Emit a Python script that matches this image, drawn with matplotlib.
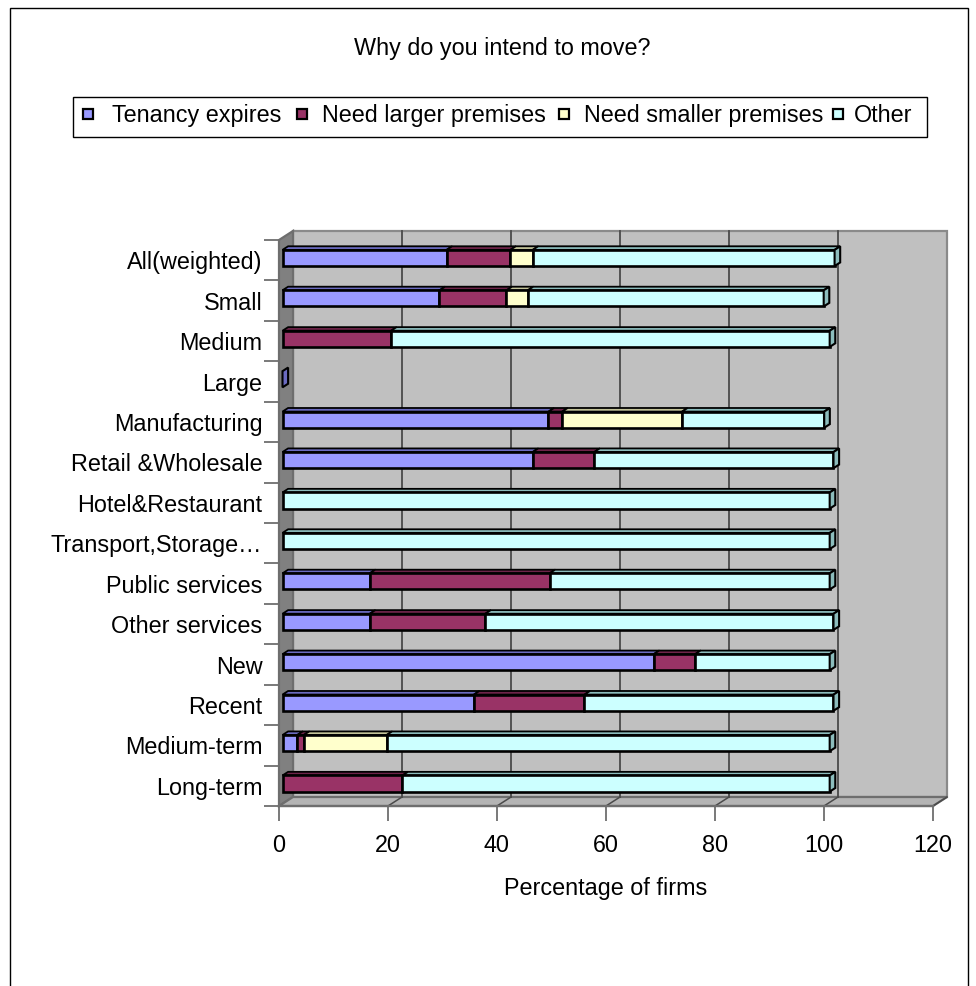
import matplotlib
matplotlib.use('Agg')
import matplotlib.pyplot as plt
from matplotlib.patches import Polygon, Rectangle
import numpy as np

plt.rcParams['font.family'] = ['Liberation Sans', 'DejaVu Sans']

categories = ['All(weighted)', 'Small', 'Medium', 'Large', 'Manufacturing',
              'Retail &Wholesale', 'Hotel&Restaurant', 'Transport,Storage\u2026',
              'Public services', 'Other services', 'New', 'Recent',
              'Medium-term', 'Long-term']
tenancy = [30.1, 28.8, 0, 0, 48.8, 45.9, 0, 0, 16.0, 16.0, 68.1, 35.1, 2.7, 0]
larger = [11.7, 12.3, 19.9, 0, 2.5, 11.3, 0, 0, 33.0, 21.2, 7.6, 20.3, 1.2, 22.0]
smaller = [4.1, 3.9, 0, 0, 22.0, 0, 0, 0, 0, 0, 0, 0, 15.2, 0]
other = [55.4, 54.3, 80.5, 0, 26.1, 43.9, 100.4, 100.4, 51.4, 63.9, 24.7, 45.7, 81.3, 78.4]
series_names = ['Tenancy expires', 'Need larger premises', 'Need smaller premises', 'Other']
xticks = [0, 20, 40, 60, 80, 100, 120]

face_cols = ['#9999FF', '#993366', '#FFFFCC', '#CCFFFF']
side_cols = ['#6B6BC0', '#6E2449', '#C4C49A', '#8CBDBD']

FS = 16.8
W, H = 976, 986
fig = plt.figure(figsize=(W / 100, H / 100), dpi=100)
ax = fig.add_axes([279 / W, 180 / H, 654 / W, 566 / H])
n = len(categories)
ax.set_xlim(0, 120)
ax.set_ylim(n - 0.5, -0.5)
ax.patch.set_visible(False)
for s in ax.spines.values():
    s.set_visible(False)

# depth of the 3d box, in pixels -> data units
px_x = ax.bbox.width / 120
px_y = ax.bbox.height / n
DX = 14 / px_x
DY = 9 / px_y


def off(x, y, t):
    return (x + t * DX, y - t * DY)


wall_col = '#C0C0C0'
edge_col = '#6E6E6E'
top, bot = -0.5, n - 0.5

# back wall, left wall, floor
ax.add_patch(Polygon([off(0, top, 1), off(120, top, 1), off(120, bot, 1), off(0, bot, 1)],
                     closed=True, fc=wall_col, ec='#8A8A8A', lw=1.6, clip_on=False, zorder=0))
ax.add_patch(Polygon([(0, top), off(0, top, 1), off(0, bot, 1), (0, bot)],
                     closed=True, fc='#808080', ec=edge_col, lw=1.6, clip_on=False, zorder=1))
ax.add_patch(Polygon([(0, bot), (120, bot), off(120, bot, 1), off(0, bot, 1)],
                     closed=True, fc='#B4B4B4', ec=edge_col, lw=1.6, clip_on=False, zorder=1))

for xv in xticks[1:-1]:
    x0, y0 = off(xv, top, 1)
    x1, y1 = off(xv, bot, 1)
    ax.plot([x0, x1], [y0, y1], color='#4A4A4A', lw=1.3, clip_on=False, zorder=1)
for xv in xticks[1:]:
    x1, y1 = off(xv, bot, 1)
    ax.plot([xv, x1], [bot, y1], color='#4A4A4A', lw=1.1, clip_on=False, zorder=2)

# bars
t0, dt = 0.25, 0.4
h = 0.4
data = np.array([tenancy, larger, smaller, other])
ypos = np.arange(n)
lefts = np.zeros(n)
for k in range(4):
    vals = data[k]
    bx, by = off(lefts, ypos, t0)
    mask = vals > 0
    ax.barh(by[mask], vals[mask], left=bx[mask], height=h, color=face_cols[k],
            edgecolor='black', linewidth=1.9, zorder=4, clip_on=False)
    for i in np.where(mask)[0]:
        l, yt = bx[i], by[i] - h / 2
        r = l + vals[i]
        ax.add_patch(Polygon([(l, yt), (r, yt), off(r, yt, dt), off(l, yt, dt)],
                             closed=True, fc=side_cols[k], ec='black', lw=1.3,
                             zorder=3, clip_on=False))
    lefts = lefts + vals

# end face on the last segment of each bar
totals = data.sum(axis=0)
for i in range(n):
    nz = np.where(data[:, i] > 0)[0]
    k = nz[-1] if len(nz) else 0
    r, yc = off(totals[i], i, t0)
    yt, yb = yc - h / 2, yc + h / 2
    ax.add_patch(Polygon([(r, yt), (r, yb), off(r, yb, dt), off(r, yt, dt)],
                         closed=True, fc=side_cols[k], ec='black', lw=1.5,
                         zorder=5, clip_on=False))

# axes ticks
ax.set_xticks(xticks)
ax.set_xticklabels([str(v) for v in xticks])
ax.tick_params(axis='x', length=11, width=1.3, color='#6E6E6E', pad=9, labelsize=FS)
ax.set_yticks(np.arange(n + 1) - 0.5)
ax.set_yticklabels([])
ax.tick_params(axis='y', which='major', length=11, width=1.3, color='#6E6E6E')
ax.set_yticks(ypos, minor=True)
ax.set_yticklabels(categories, minor=True)
ax.tick_params(axis='y', which='minor', length=0, pad=12, labelsize=FS)
ax.plot([0, 120], [bot, bot], color=edge_col, lw=1.6, clip_on=False, zorder=2)

# titles
fig.text(502 / W, 1 - 55 / H, 'Why do you intend to move?', ha='center', va='baseline', fontsize=FS)
fig.text(606 / W, 1 - 895 / H, 'Percentage of firms', ha='center', va='baseline', fontsize=FS)

# legend
fig.patches.append(Rectangle((73 / W, 1 - 137 / H), (927 - 73) / W, 40 / H, transform=fig.transFigure,
                             fc='white', ec='black', lw=1.0))
mark_x = [83, 297, 559, 833]
text_x = [112, 322, 584, 854]
for k in range(4):
    fig.patches.append(Rectangle((mark_x[k] / W, 1 - 119 / H), 10 / W, 10 / H,
                                 transform=fig.transFigure, fc=face_cols[k], ec='black', lw=1.6))
    fig.text(text_x[k] / W, 1 - 122 / H, series_names[k], ha='left', va='baseline', fontsize=FS)

# outer frame
fig.patches.append(Rectangle((9.5 / W, -0.05), (968 - 9.5) / W, 1.05 - 8.5 / H,
                             transform=fig.transFigure, fc='none', ec='black', lw=1.0))

fig.savefig('out.png', dpi=100)
